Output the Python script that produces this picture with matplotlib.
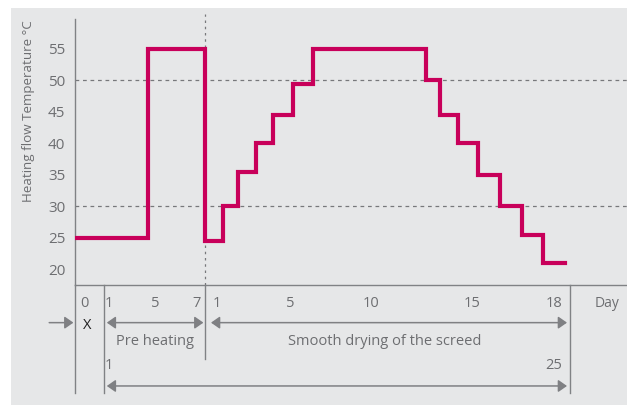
import matplotlib.pyplot as plt
from matplotlib.patches import Rectangle

# timeline position (1 unit ~ 20 px of the original diagram), temperatures in degC
step_edges = [0, 3.64, 6.5, 7.39, 8.17, 9.04, 9.92, 10.89, 11.9,
              17.54, 18.25, 19.17, 20.14, 21.25, 22.37, 23.42, 24.5]
step_temps = [25, 55, 24.5, 30, 35.5, 40, 44.5, 49.5, 55,
              50, 44.5, 40, 35, 30, 25.5, 21]
ref_temps = [30, 50]
y_ticks = [20, 25, 30, 35, 40, 45, 50, 55]

phase_bounds = [0, 1.45, 6.5, 24.75]      # X | pre heating | drying | end
day_labels = ["0", "1", "5", "7", "1", "5", "10", "15", "18"]
day_pos = [0.45, 1.7, 4.0, 6.1, 7.1, 10.75, 14.8, 19.85, 23.95]
total_labels = ["1", "25"]
total_pos = [1.7, 23.95]

LINE = "#C8005A"
GREY = "#6d6e71"
AX = "#808285"
BG = "#E6E7E8"

plt.rcParams["font.family"] = ["Open Sans", "DejaVu Sans"]

fig = plt.figure(figsize=(6.27, 4.05), dpi=100)
fig.patches.append(Rectangle((11 / 627, 0), 1, 1 - 8 / 405, transform=fig.transFigure,
                             facecolor=BG, edgecolor="none", zorder=-10))

left, bottom, top = 75 / 627, 1 - 285.3 / 405, 1 - 19.3 / 405
ax = fig.add_axes([left, bottom, 1 - left, top - bottom])
ax.set_facecolor("none")
xmax = (627 - 75) / 20
ax.set_xlim(0, xmax)
ax.set_ylim(17.46, 59.7)

xs = step_edges
ys = step_temps + [step_temps[-1]]
ax.step(xs, ys, where="post", color=LINE, lw=3.0, solid_joinstyle="miter", zorder=3)

for t in ref_temps:
    ax.axhline(t, color="#77787b", lw=0.9, ls=(0, (3, 3)), zorder=1)
ax.plot([phase_bounds[2]] * 2, [17.46, 60.5], color="#77787b", lw=0.9,
        ls=(0, (2, 3)), clip_on=False, zorder=1)

for s in ["top", "right"]:
    ax.spines[s].set_visible(False)
for s in ["left", "bottom"]:
    ax.spines[s].set_color(AX)
    ax.spines[s].set_linewidth(1.0)
ax.set_yticks(y_ticks)
ax.set_yticklabels([str(v) for v in y_ticks], fontsize=11, color=GREY)
ax.tick_params(axis="y", length=0, pad=7)
ax.set_xticks([])
ax.set_ylabel("Heating flow Temperature °C", fontsize=9.6, color=GREY)
ax.yaxis.set_label_coords(-0.072, 0.653)

# annotation strip below the axis, y in 0..1 (1 = axis line, 0 = bottom edge)
ax2 = fig.add_axes([left, 0, 1 - left, bottom], sharex=ax)
ax2.set_ylim(0, 1)
ax2.axis("off")

for xb, y0 in zip(phase_bounds, [0.10, 0.10, 0.384, 0.10]):
    ax2.plot([xb, xb], [y0, 1], color=AX, lw=1.0, clip_on=False)

for lab, xp in zip(day_labels, day_pos):
    ax2.text(xp, 0.852, lab, ha="center", va="center", fontsize=10.5, color=GREY)
ax2.text(26.6, 0.852, "Day", ha="center", va="center", fontsize=10, color=GREY)
for lab, xp in zip(total_labels, total_pos):
    ax2.text(xp, 0.334, lab, ha="center", va="center", fontsize=10.5, color=GREY)

head = "-|>,head_length=0.4,head_width=0.28"
both = "<|-|>,head_length=0.4,head_width=0.28"
arrow = dict(color="#7f8083", lw=1.1, shrinkA=0, shrinkB=0, mutation_scale=13)
ax2.annotate("", xy=(-0.08, 0.688), xytext=(-1.29, 0.688),
             arrowprops=dict(arrowstyle=head, **arrow), annotation_clip=False)
ax2.text(0.6, 0.66, "X", ha="center", va="center", fontsize=10.5, color="#222222")
ax2.annotate("", xy=(6.42, 0.688), xytext=(1.59, 0.688),
             arrowprops=dict(arrowstyle=both, **arrow))
ax2.annotate("", xy=(24.6, 0.688), xytext=(6.8, 0.688),
             arrowprops=dict(arrowstyle=both, **arrow))
ax2.annotate("", xy=(24.6, 0.159), xytext=(1.59, 0.159),
             arrowprops=dict(arrowstyle=both, **arrow))
ax2.text(4.0, 0.53, "Pre heating", ha="center", va="center", fontsize=10.5, color=GREY)
ax2.text(15.5, 0.53, "Smooth drying of the screed", ha="center", va="center",
         fontsize=10.5, color=GREY)

fig.savefig("out.png", dpi=100, facecolor="white")
